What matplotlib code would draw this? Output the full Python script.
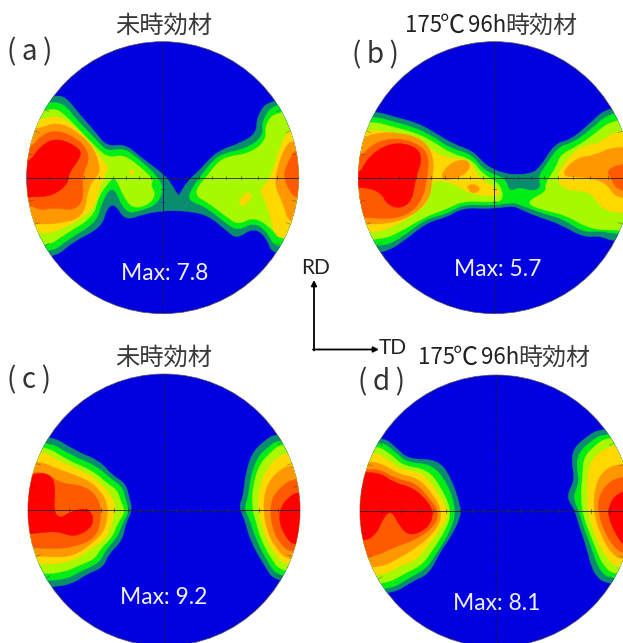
import numpy as np
import matplotlib
matplotlib.use("Agg")
from matplotlib import pyplot as plt
from matplotlib.patches import Circle, PathPatch
from matplotlib.path import Path

# contour outlines, in 3x zoom pixels of each panel crop
# levels go teal, green, lime, yellow, orange, dark orange, red
level_colors = ['#0a8c6e', '#00ee18', '#a8f800', '#ffd800', '#ff9800', '#ff5a00', '#ff0000']
blue = '#0000e0'

a_left = [
    [(160,288),(195,288),(240,345),(285,395),(320,440),(375,432),(420,470),(490,522),(510,545),(536,590),(555,602),(560,626),(540,632),(490,632),(430,642),(375,662),(345,610),(320,625),(305,682),(215,727),(160,778)],
    [(140,308),(190,308),(230,360),(290,420),(320,455),(370,443),(420,480),(470,526),(492,566),(472,612),(430,630),(375,642),(340,552),(305,605),(290,667),(205,717),(150,762)],
    [(130,335),(170,323),(220,370),(280,435),(325,475),(370,463),(420,500),(462,540),(450,555),(468,580),(450,612),(400,627),(370,590),(345,525),(320,555),(295,590),(280,652),(195,702),(140,742)],
    [(110,365),(170,343),(230,385),(280,440),(305,480),(328,500),(310,535),(295,575),(280,632),(180,692),(125,702)],
    [(100,395),(170,363),(240,400),(285,450),(302,510),(290,530),(265,560),(252,652),(170,672),(110,672)],
    [(90,450),(120,408),(170,388),(240,420),(272,470),(245,530),(252,600),(220,632),(160,622),(120,632),(90,612)],
    [(80,500),(120,438),(170,413),(232,440),(247,465),(205,520),(205,550),(160,587),(100,592)],
]
a_right = [
    [(810,293),(770,350),(770,400),(720,430),(660,450),(625,480),(600,510),(560,545),(536,590),(515,602),(515,630),(540,632),(620,642),(680,692),(710,717),(760,682),(800,712),(820,772)],
    [(830,303),(785,360),(790,410),(740,445),(670,460),(640,480),(600,530),(570,575),(565,602),(620,622),(680,672),(715,692),(760,667),(800,692),(830,752)],
    [(835,330),(795,370),(800,420),(750,460),(680,470),(650,490),(620,530),(590,565),(590,590),(620,605),(680,650),(715,675),(760,650),(810,680),(840,720)],
    [(875,388),(860,400),(840,440),(820,510),(800,550),(778,570),(800,610),(820,690),(840,722)],
    [(880,418),(855,440),(830,510),(825,560),(850,610),(870,682)],
    [(890,443),(870,475),(850,520),(860,560),(890,602)],
    [],
]
a_spots = [
    (3, [(712,605),(745,572),(758,590),(730,623)]),
    (3, [(386,515),(398,506),(404,520),(392,527)]),
    (1, [(694,548),(702,536),(710,552),(700,558)]),
]

b_left = [
    [(225,333),(280,350),(350,368),(400,395),(460,433),(520,453),(560,500),(620,523),(665,525),(675,575),(665,625),(640,617),(570,627),(490,622),(440,652),(380,667),(300,732),(260,752),(240,757)],
    [(220,348),(280,365),(345,383),(400,410),(450,445),(515,463),(550,510),(600,530),(618,540),(628,574),(650,566),(660,590),(655,612),(640,607),(570,617),(490,612),(440,642),(375,657),(300,717),(240,742)],
    [(215,363),(275,380),(345,398),(400,425),(450,460),(515,478),(545,520),(590,545),(607,570),(607,602),(580,607),(490,602),(440,627),(370,652),(300,697),(235,722)],
    [(180,388),(250,393),(345,413),(395,450),(440,475),(510,478),(532,530),(570,555),(602,575),(590,587),(540,587),(500,575),(450,545),(395,540),(390,590),(370,622),(300,672),(220,702)],
    [(180,418),(230,398),(300,398),(370,418),(402,470),(397,540),(387,602),(330,652),(260,672),(190,672)],
    [(175,480),(220,428),(290,413),(360,433),(387,470),(382,530),(367,602),(320,647),(260,657),(200,652)],
    [(175,530),(200,478),(250,438),(300,428),(352,443),(367,480),(347,530),(337,602),(300,627),(260,612),(245,580),(200,560)],
]
b_right = [
    [(930,313),(860,380),(810,420),(765,430),(720,503),(690,523),(620,523),(600,530),(600,612),(640,617),(670,632),(720,652),(780,672),(850,712),(900,707),(945,727)],
    [(940,328),(865,395),(815,430),(775,440),(735,500),(715,530),(724,564),(695,574),(660,562),(640,570),(625,590),(625,606),(640,607),(680,622),(735,642),(790,657),(850,697),(900,692),(945,702)],
    [(945,353),(880,405),(830,440),(780,465),(770,500),(735,550),(740,575),(688,600),(690,617),(740,632),(800,647),(860,682),(920,692)],
    [(950,388),(900,430),(840,440),(790,490),(768,540),(800,572),(870,572),(900,622),(950,642)],
    [(940,438),(890,465),(830,473),(788,515),(800,532),(850,530),(920,547),(950,602)],
    [(970,488),(920,510),(930,532),(960,582)],
    [],
]
b_spots = [
    (4, [(423,520),(460,483),(502,478),(512,505),(480,532),(430,542)]),
    (4, [(503,555),(530,553),(542,570),(520,582),(503,567)]),
]

c_left = [
    [(150,343),(220,390),(300,423),(335,465),(377,490),(387,530),(397,570),(377,610),(367,662),(325,702),(310,742),(260,762),(215,792),(155,802)],
    [(140,360),(210,405),(290,438),(330,475),(367,500),(377,540),(387,575),(367,610),(352,652),(315,692),(300,727),(245,752),(200,777),(140,782)],
    [(130,373),(200,420),(280,453),(320,490),(352,510),(362,545),(377,575),(352,610),(337,652),(300,687),(285,717),(235,737),(190,757),(130,762)],
    [(120,388),(190,430),(270,463),(310,500),(337,530),(347,570),(337,600),(322,652),(280,682),(230,717),(180,732),(110,732)],
    [(105,418),(180,450),(260,478),(300,510),(322,550),(322,600),(307,642),(260,682),(220,707),(170,712),(105,707)],
    [(95,458),(140,458),(180,490),(260,498),(302,545),(302,610),(282,657),(220,682),(150,687),(95,682)],
    [(85,480),(105,458),(152,463),(167,500),(160,572),(180,597),(210,575),(260,563),(282,590),(272,627),(220,652),(170,632),(100,642)],
]
c_right = [
    [(830,338),(790,365),(755,400),(735,470),(730,530),(716,560),(735,600),(750,660),(790,732),(830,792)],
    [(838,356),(800,385),(770,415),(750,480),(745,530),(733,565),(750,600),(765,650),(800,722),(840,777)],
    [(845,368),(810,400),(780,430),(760,490),(755,560),(770,610),(780,650),(810,712),(850,762)],
    [(860,393),(810,430),(780,490),(772,560),(785,610),(800,660),(825,702),(860,742)],
    [(875,428),(820,465),(795,510),(790,570),(800,630),(825,682),(870,727)],
    [(890,468),(830,510),(810,555),(815,620),(840,672),(880,702)],
    [(900,508),(850,545),(835,590),(850,642),(885,682)],
]

d_left = [
    [(248,348),(290,385),(325,418),(412,418),(452,470),(482,560),(482,590),(452,652),(422,692),(387,762),(340,782),(270,827)],
    [(238,360),(285,395),(320,428),(397,433),(442,490),(469,570),(452,632),(402,712),(377,747),(330,772),(262,814)],
    [(225,373),(275,405),(310,438),(382,448),(422,500),(454,570),(442,622),(387,707),(362,737),(320,757),(250,797)],
    [(215,393),(265,420),(300,448),(367,458),(407,510),(447,575),(432,612),(372,692),(347,722),(300,737),(240,772)],
    [(205,423),(250,433),(295,463),(352,473),(397,520),(427,575),(412,627),(352,682),(300,712),(235,747)],
    [(195,448),(240,448),(290,478),(347,488),(392,540),(417,575),(402,622),(342,662),(280,682),(210,717)],
    [(180,458),(240,458),(280,488),(342,503),(397,560),(397,602),(372,632),(330,647),(300,622),(275,570),(250,592),(230,642),(190,667)],
]
d_right = [
    [(905,323),(860,350),(820,385),(815,430),(825,480),(798,530),(825,570),(835,610),(860,682),(880,762),(925,797)],
    [(915,338),(870,365),(835,400),(830,440),(838,490),(818,530),(840,580),(850,620),(875,682),(895,747),(935,782)],
    [(925,348),(880,380),(850,415),(848,470),(842,530),(850,590),(870,640),(890,692),(910,737),(945,767)],
    [(945,373),(890,400),(865,440),(860,520),(865,590),(890,660),(920,712),(950,747)],
    [(965,428),(910,450),(885,500),(880,570),(900,640),(935,702),(970,722)],
    [(985,468),(930,480),(895,530),(895,580),(915,640),(950,692),(985,702)],
    [(1000,508),(950,520),(925,560),(925,590),(945,640),(975,682),(1000,682)],
]

panel_names = ['(\u2009a\u2009)', '(\u2009b\u2009)', '(\u2009c\u2009)', '(\u2009d\u2009)']
panel_max = ['Max: 7.8', 'Max: 5.7', 'Max: 9.2', 'Max: 8.1']
plain_title = '未時効材'
aged_parts = ['175', '℃', '96h', '時効材']

# stereographic spacing of the 10 degree marks, as a fraction of the radius
tick_fracs = [0.087, 0.176, 0.268, 0.364, 0.466, 0.577, 0.700, 0.839]

W, H = 623, 643
R = 408
cjk = ['Noto Sans CJK JP', 'DejaVu Sans']
sans = ['Lato', 'DejaVu Sans']

fig = plt.figure(figsize=(W/100, H/100), dpi=100)


def smooth_path(poly):
    # closed quadratic spline through the midpoints, the outlines are round in the picture
    pts = np.array(poly, dtype=float)
    mids = (pts + np.roll(pts, -1, axis=0))/2
    verts = [mids[-1]]
    codes = [Path.MOVETO]
    for p, m in zip(pts, mids):
        verts += [p, m]
        codes += [Path.CURVE3, Path.CURVE3]
    return Path(verts, codes)


def add_level(ax, poly, col, clip):
    patch = PathPatch(smooth_path(poly), fc=col, ec=col, lw=0.3)
    ax.add_patch(patch)
    patch.set_clip_path(clip)


def draw_panel(ox, oy, cx, cy, left, right, spots):
    # ox, oy is the crop origin in the figure, cx, cy the circle centre in zoom pixels
    x0 = ox + (cx - R)/3
    y0 = oy + (cy - R)/3
    ax = fig.add_axes([x0/W, 1 - (y0 + 2*R/3)/H, (2*R/3)/W, (2*R/3)/H])
    ax.set_xlim(cx - R, cx + R)
    ax.set_ylim(cy + R, cy - R)
    ax.axis('off')

    clip = Circle((cx, cy), R, transform=ax.transData)
    ax.add_patch(Circle((cx, cy), R, fc=blue, ec='#555555', lw=0.5, clip_on=False))

    for i, col in enumerate(level_colors):
        for poly, xout in ((left[i], cx - 600), (right[i], cx + 600)):
            if poly:
                # run the outline out past the rim, the disc clips it
                add_level(ax, poly + [(xout, poly[-1][1]), (xout, poly[0][1])], col, clip)
        for lev, poly in spots:
            if lev == i:
                add_level(ax, poly, col, clip)

    # cross lines and the small marks
    ax.plot([cx - R, cx + R], [cy, cy], color='#202030', lw=0.6)
    ax.plot([cx, cx], [cy - R, cy + R], color='#101070', lw=0.6)
    for f in tick_fracs:
        for s in (-1, 1):
            ax.plot([cx + s*f*R]*2, [cy - 5, cy + 5], color='#303030', lw=0.4)
            ax.plot([cx - 5, cx + 5], [cy + s*f*R]*2, color='#101070', lw=0.4)
    for ang in np.arange(0, 360, 10):
        c, s = np.cos(np.radians(ang)), np.sin(np.radians(ang))
        l = ax.plot([cx + (R - 14)*c, cx + R*c], [cy + (R - 14)*s, cy + R*s],
                    color='#303030', lw=0.4, alpha=0.6)[0]
        l.set_clip_path(clip)


draw_panel(0, 0, 488, 533, a_left, a_right, a_spots)
draw_panel(300, 0, 583, 533, b_left, b_right, b_spots)
draw_panel(0, 320, 492, 570, c_left, c_right, [])
draw_panel(300, 320, 588, 573, d_left, d_right, [])

# overlay in picture pixels for the texts and the arrows
ov = fig.add_axes([0, 0, 1, 1])
ov.set_xlim(0, W)
ov.set_ylim(H, 0)
ov.axis('off')
ov.patch.set_alpha(0)

name_pos = [(30, 52), (375, 55), (29, 380), (381, 382)]
max_pos = [(165, 274), (498, 270), (164, 598), (497, 603)]

for i in range(4):
    ov.text(*name_pos[i], panel_names[i], family=cjk, fontsize=20, color='#333333', ha='center', va='center')
    ov.text(*max_pos[i], panel_max[i], family=sans, fontsize=16.5, color='#f0f0ff', ha='center', va='center')

ov.text(164, 26, plain_title, family=cjk, fontsize=17.5, color='#3a3a3a', ha='center', va='center')
ov.text(164, 358, plain_title, family=cjk, fontsize=17.5, color='#3a3a3a', ha='center', va='center')

# the aged title is set piece by piece, its digits and the degree sign run wider
for px, py in ((405, 26), (418, 358)):
    ov.text(px, py, aged_parts[0], family=cjk, fontsize=16, color='#222222', ha='left', va='center')
    ov.text(px + 35, py, aged_parts[1], family=cjk, fontsize=18, color='#222222', ha='left', va='center')
    ov.text(px + 63, py, aged_parts[2], family=cjk, fontsize=16, color='#222222', ha='left', va='center')
    ov.text(px + 100, py, aged_parts[3], family=cjk, fontsize=17.3, color='#3a3a3a', ha='left', va='center')

ov.annotate('', xy=(314, 280), xytext=(314, 350.5),
            arrowprops=dict(arrowstyle='-|>', color='black', lw=1.3, shrinkA=0, shrinkB=0, mutation_scale=8))
ov.annotate('', xy=(379, 349.5), xytext=(313, 349.5),
            arrowprops=dict(arrowstyle='-|>', color='black', lw=1.3, shrinkA=0, shrinkB=0, mutation_scale=8))
ov.text(316, 268, 'RD', family=sans, fontsize=15, color='#222222', ha='center', va='center')
ov.text(393, 348, 'TD', family=sans, fontsize=15, color='#222222', ha='center', va='center')

fig.savefig('out.png', dpi=100)
